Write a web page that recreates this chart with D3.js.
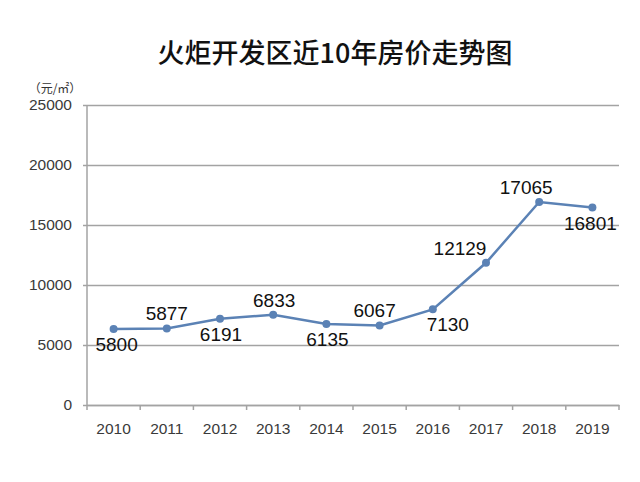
<!DOCTYPE html>
<html>
<head>
<meta charset="utf-8">
<script src="https://cdn.jsdelivr.net/npm/d3@7"></script>
<style>
  html, body { margin: 0; padding: 0; background: #fff; }
  svg { display: block; }
</style>
</head>
<body>
<svg id="chart" width="640" height="482"></svg>
<script>
// ---- data ----
const years = ["2010","2011","2012","2013","2014","2015","2016","2017","2018","2019"];
// plotted point values (as drawn in the picture)
const pointValues = [6330, 6380, 7190, 7525, 6750, 6630, 7970, 11850, 16915, 16450];
// data label texts (as printed in the picture)
const labelTexts = ["5800","5877","6191","6833","6135","6067","7130","12129","17065","16801"];
const yTicks = [0, 5000, 10000, 15000, 20000, 25000];
const titleText = "火炬开发区近10年房价走势图";
const unitText = "（元/㎡）";

// ---- layout (kept apart from data) ----
const labelSide = ["below","above","below","above","below","above","below","above","above","below"];
const labelDx = [3, 0, 1, 1, 1, -5, 15, -26, -13, -2];

(function () {
const svg = d3.select("#chart");
const mLeft = 87, mRight = 619, mTop = 105, mBottom = 405;

const x = d3.scaleBand().domain(years).range([mLeft, mRight]).padding(0);
const y = d3.scaleLinear().domain([0, 25000]).range([mBottom, mTop]);

const gridColor = "#a3a3a3";

// title
svg.append("text")
  .attr("x", 335).attr("y", 63)
  .attr("text-anchor", "middle")
  .attr("font-family", "'Noto Sans CJK SC', sans-serif")
  .attr("font-size", 27)
  .attr("font-weight", 500)
  .attr("fill", "#111")
  .text(titleText);

// unit label
svg.append("text")
  .attr("x", 55).attr("y", 93)
  .attr("text-anchor", "middle")
  .attr("font-family", "'Noto Sans CJK SC', sans-serif")
  .attr("font-size", 12)
  .attr("fill", "#333")
  .text(unitText);

// y axis with gridlines
const yAxis = d3.axisLeft(y).tickValues(yTicks).tickFormat(d3.format("d"))
  .tickSize(-(mRight - mLeft)).tickPadding(15).tickSizeOuter(0);
const gy = svg.append("g").attr("transform", `translate(${mLeft},0)`).call(yAxis);
gy.select(".domain").remove();
gy.selectAll(".tick line").attr("stroke", gridColor).attr("stroke-width", 1.5).attr("x1", -4);
gy.selectAll(".tick text")
  .attr("font-family", "'Liberation Sans', Arial, sans-serif")
  .attr("font-size", 15.5).attr("fill", "#3a3a3a");
svg.append("line")
  .attr("x1", mLeft).attr("x2", mLeft).attr("y1", mTop).attr("y2", mBottom)
  .attr("stroke", gridColor).attr("stroke-width", 1.5);

// x axis
const xAxis = d3.axisBottom(x).tickSize(0).tickPadding(18).tickSizeOuter(0);
const gx = svg.append("g").attr("transform", `translate(0,${mBottom})`).call(xAxis);
gx.select(".domain").attr("stroke", gridColor).attr("stroke-width", 1.5);
gx.selectAll(".tick text")
  .attr("font-family", "'Liberation Sans', Arial, sans-serif")
  .attr("font-size", 15.5).attr("fill", "#3a3a3a");
const boundaries = years.map(d => x(d)).concat([x(years[years.length - 1]) + x.bandwidth()]);
svg.append("g").selectAll("line").data(boundaries).join("line")
  .attr("x1", d => d).attr("x2", d => d)
  .attr("y1", mBottom).attr("y2", mBottom + 5)
  .attr("stroke", gridColor).attr("stroke-width", 1.5);

// line
const cx = i => x(years[i]) + x.bandwidth() / 2;
const line = d3.line().x((d, i) => cx(i)).y(d => y(d));
const lineColor = "#5b82b5";
svg.append("path")
  .datum(pointValues)
  .attr("d", line)
  .attr("fill", "none")
  .attr("stroke", lineColor)
  .attr("stroke-width", 2.5);

svg.append("g").selectAll("circle").data(pointValues).join("circle")
  .attr("cx", (d, i) => cx(i))
  .attr("cy", d => y(d))
  .attr("r", 4)
  .attr("fill", lineColor);

// data labels
svg.append("g").selectAll("text").data(labelTexts).join("text")
  .attr("x", (d, i) => cx(i) + labelDx[i])
  .attr("y", (d, i) => y(pointValues[i]) + (labelSide[i] === "above" ? -8 : 22))
  .attr("text-anchor", "middle")
  .attr("font-family", "'Liberation Sans', Arial, sans-serif")
  .attr("font-size", 19)
  .attr("fill", "#111")
  .text(d => d);
})();
</script>
</body>
</html>
